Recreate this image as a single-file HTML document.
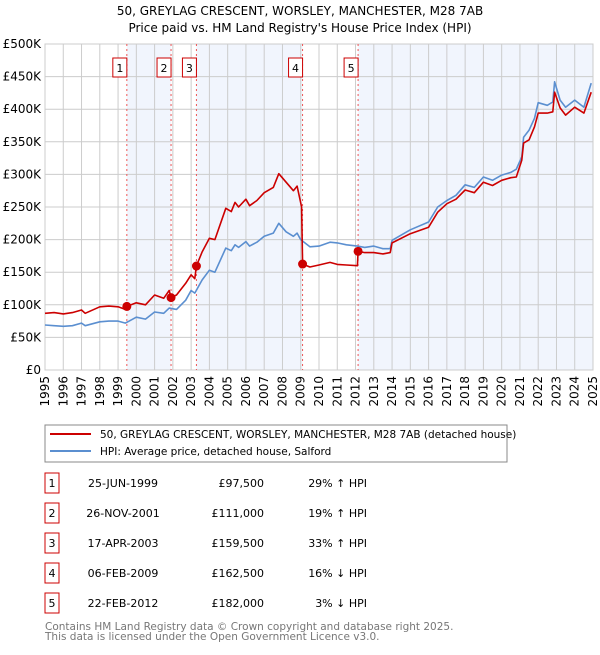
<!DOCTYPE html>
<html><head><meta charset="utf-8"><style>
body{margin:0;background:#fff;font-family:"Liberation Sans","DejaVu Sans",sans-serif;}
svg text{font-family:"DejaVu Sans","Liberation Sans",sans-serif;}
</style></head><body>
<svg id="c" width="600" height="650" viewBox="0 0 600 650">
<text x="300" y="15" text-anchor="middle" font-size="12">50, GREYLAG CRESCENT, WORSLEY, MANCHESTER, M28 7AB</text>
<text x="300" y="32" text-anchor="middle" font-size="12">Price paid vs. HM Land Registry's House Price Index (HPI)</text>
<g id="plot"></g>
<rect x="45" y="425" width="462" height="37" fill="#fff" stroke="#888"/>
<line x1="50" y1="434" x2="91" y2="434" stroke="#cc0000" stroke-width="2"/>
<text x="100" y="438" font-size="10.5">50, GREYLAG CRESCENT, WORSLEY, MANCHESTER, M28 7AB (detached house)</text>
<line x1="50" y1="451" x2="91" y2="451" stroke="#5b8fd0" stroke-width="2"/>
<text x="100" y="455" font-size="10.5">HPI: Average price, detached house, Salford</text>
<g id="tbl"></g>
<text x="45" y="630" font-size="10.5" fill="#777">Contains HM Land Registry data © Crown copyright and database right 2025.</text>
<text x="45" y="640" font-size="10.5" fill="#777">This data is licensed under the Open Government Licence v3.0.</text>
</svg>
<script>
const years=[1995,1996,1997,1998,1999,2000,2001,2002,2003,2004,2005,2006,2007,2008,2009,2010,2011,2012,2013,2014,2015,2016,2017,2018,2019,2020,2021,2022,2023,2024,2025];
const yTicks=[0,50000,100000,150000,200000,250000,300000,350000,400000,450000,500000];
const yTickLabels=["£0","£50K","£100K","£150K","£200K","£250K","£300K","£350K","£400K","£450K","£500K"];
const saleDates=[1999.48,2001.9,2003.29,2009.1,2012.14];
const salePrices=[97500,111000,159500,162500,182000];
const saleLabels=["1","2","3","4","5"];
const saleDateText=["25-JUN-1999","26-NOV-2001","17-APR-2003","06-FEB-2009","22-FEB-2012"];
const salePriceText=["£97,500","£111,000","£159,500","£162,500","£182,000"];
const saleHpiText=["29% ↑ HPI","19% ↑ HPI","33% ↑ HPI","16% ↓ HPI","3% ↓ HPI"];
const hpiT=[1995,1995.5,1996,1996.5,1997,1997.2,1998,1998.5,1999,1999.4,2000,2000.5,2001,2001.5,2001.8,2002.2,2002.7,2003,2003.2,2003.6,2004,2004.3,2004.9,2005.2,2005.4,2005.6,2006,2006.2,2006.6,2007,2007.5,2007.8,2008.2,2008.6,2008.8,2009,2009.5,2010,2010.6,2011,2011.5,2012.1,2012.5,2013,2013.5,2013.9,2014,2015,2016,2016.5,2017,2017.5,2018,2018.5,2019,2019.5,2020,2020.5,2020.8,2021.1,2021.2,2021.5,2021.8,2022,2022.5,2022.8,2022.9,2023.2,2023.5,2024,2024.5,2024.9];
const hpiV=[69,68,67,68,72,68,74,75,75,72,81,78,89,87,95,93,107,122,118,138,153,150,187,183,192,188,197,190,196,205,210,225,212,205,210,200,189,190,196,195,192,190,188,190,186,186,199,215,227,250,260,268,284,280,296,291,299,303,308,327,357,368,386,410,406,411,442,414,403,414,403,440];
const priceT=[1995,1995.5,1996,1996.5,1997,1997.2,1998,1998.5,1999,1999.4,1999.48,2000,2000.5,2001,2001.5,2001.8,2001.9,2002.2,2002.7,2003,2003.2,2003.29,2003.6,2004,2004.3,2004.9,2005.2,2005.4,2005.6,2006,2006.2,2006.6,2007,2007.5,2007.8,2008.2,2008.6,2008.8,2009.05,2009.1,2009.5,2010,2010.6,2011,2011.5,2012.1,2012.14,2012.5,2013,2013.5,2013.9,2014,2015,2016,2016.5,2017,2017.5,2018,2018.5,2019,2019.5,2020,2020.5,2020.8,2021.1,2021.2,2021.5,2021.8,2022,2022.5,2022.8,2022.9,2023.2,2023.5,2024,2024.5,2024.9];
const priceV=[87,88,86,88,92,87,97,98,97,93,97.5,103,100,115,110,122,111,115,133,146,140,159.5,181,202,200,248,243,257,250,262,252,260,272,280,301,288,275,282,250,162.5,158,161,165,162,161,160,182,180,180,178,180,195,209,219,242,255,262,276,272,288,283,291,295,296,322,348,353,373,394,394,396,426,402,391,403,394,426];
const X0=45,X1=593,Y0=370,Y1=44;
const sx=t=>X0+(t-1995)/30*(X1-X0);
const sy=v=>Y0-v/500000*(Y0-Y1);
const NS="http://www.w3.org/2000/svg";
const plot=document.getElementById('plot');
function mk(tag,attrs,parent){const e=document.createElementNS(NS,tag);for(const k in attrs)e.setAttribute(k,attrs[k]);(parent||plot).appendChild(e);return e;}
const shadeStart=[0,2,4];const shadeEnd=[1,3,null];
for(let i=0;i<3;i++){const a=sx(saleDates[shadeStart[i]]);const b=shadeEnd[i]===null?X1:sx(saleDates[shadeEnd[i]]);
const r=mk('rect',{x:a,y:Y1,width:b-a,height:Y0-Y1,fill:'#eef3fc',opacity:0.8});

}
years.forEach(y=>{const l=mk('line',{x1:sx(y),x2:sx(y),y1:Y1,y2:Y0,stroke:'#cccccc','stroke-width':1});


const t=mk('text',{x:0,y:0,'font-size':12,'text-anchor':'end',transform:`translate(${sx(y)+4},${Y0+6}) rotate(-90)`});t.textContent=y;

});
yTicks.forEach((v,i)=>{const l=mk('line',{x1:X0,x2:X1,y1:sy(v),y2:sy(v),stroke:'#cccccc','stroke-width':1});


const t=mk('text',{x:X0-4,y:sy(v)+4,'font-size':12,'text-anchor':'end'});t.textContent=yTickLabels[i];

});
mk('rect',{x:X0,y:Y1,width:X1-X0,height:Y0-Y1,fill:'none',stroke:'#ccc'});
saleDates.forEach((d,i)=>{const l=mk('line',{x1:sx(d),x2:sx(d),y1:Y1,y2:Y0,stroke:'#ee5555','stroke-width':1,'stroke-dasharray':'2,3'});


const r=mk('rect',{x:sx(d)-14,y:58,width:14,height:19,fill:'#fff',stroke:'#cc0000'});


const t=mk('text',{x:sx(d)-7,y:72,'font-size':11,'text-anchor':'middle'});t.textContent=saleLabels[i];

});
function path(T,V,col,name){const d=T.map((t,i)=>(i?'L':'M')+sx(t).toFixed(1)+','+sy(V[i]*1000).toFixed(1)).join('');
const p=mk('path',{d:d,fill:'none',stroke:col,'stroke-width':1.6,'stroke-linejoin':'round'});

}
path(hpiT,hpiV,'#5b8fd0','hpi-line');
path(priceT,priceV,'#cc0000','price-paid-line');
saleDates.forEach((d,i)=>{const c=mk('circle',{cx:sx(d),cy:sy(salePrices[i]),r:4.5,fill:'#cc0000'});

});
const tbl=document.getElementById('tbl');
saleLabels.forEach((s,i)=>{const y=483+i*30;
const r=mk('rect',{x:45,y:y-10,width:14,height:20,fill:'#fff',stroke:'#cc0000'},tbl);


const cols=[[52,'middle',s],[123,'middle',saleDateText[i]],[264,'end',salePriceText[i]],[367,'end',saleHpiText[i]]];
cols.forEach(c=>{const t=mk('text',{x:c[0],y:y+4,'font-size':11,'text-anchor':c[1]},tbl);t.textContent=c[2];

});});
</script>
</body></html>
